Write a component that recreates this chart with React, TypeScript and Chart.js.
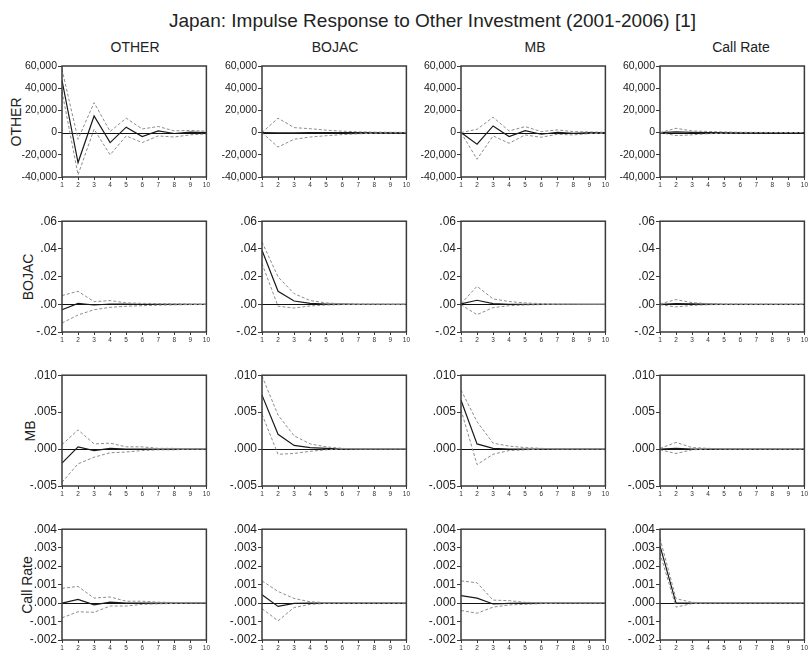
import React, { useEffect, useRef } from "react";
import { Chart, registerables } from "chart.js";

Chart.register(...registerables);

// Forecast horizon
const periods = ["1", "2", "3", "4", "5", "6", "7", "8", "9", "10"];

// Responding variables (rows) and shocked variables (columns)
const responseNames = ["OTHER", "BOJAC", "MB", "Call Rate"];
const shockNames = ["OTHER", "BOJAC", "MB", "Call Rate"];

// Y-axis ticks per responding variable
const ticksOther = [-40000, -20000, 0, 20000, 40000, 60000];
const tickLabelsOther = ["-40,000", "-20,000", "0", "20,000", "40,000", "60,000"];
const ticksBojac = [-0.02, 0, 0.02, 0.04, 0.06];
const tickLabelsBojac = ["-.02", ".00", ".02", ".04", ".06"];
const ticksMb = [-0.005, 0, 0.005, 0.01];
const tickLabelsMb = ["-.005", ".000", ".005", ".010"];
const ticksCall = [-0.002, -0.001, 0, 0.001, 0.002, 0.003, 0.004];
const tickLabelsCall = ["-.002", "-.001", ".000", ".001", ".002", ".003", ".004"];

// Response of OTHER
const otherToOther = [47000, -27000, 15000, -9000, 4900, -3600, 1500, -800, 500, 0];
const otherToOtherHi = [57000, -6000, 27000, 1000, 13000, 3300, 5500, 1500, 2000, 1200];
const otherToOtherLo = [37000, -38000, 3000, -20000, -3000, -9000, -3000, -4000, -2000, -1200];
const otherToBojac = [0, -300, -200, -100, -100, 0, 0, 0, 0, 0];
const otherToBojacHi = [0, 13000, 4500, 3500, 2200, 1300, 700, 400, 300, 200];
const otherToBojacLo = [0, -13000, -6000, -4000, -2800, -1800, -1100, -600, -400, -200];
const otherToMb = [0, -10500, 6000, -3600, 1800, -1500, 300, -600, 100, 0];
const otherToMbHi = [0, 3000, 13800, 1500, 5400, 900, 2400, 900, 600, 300];
const otherToMbLo = [0, -24000, -3000, -9600, -2100, -4200, -1500, -2100, -900, -600];
const otherToCall = [0, 600, 200, 100, 0, 0, 0, 0, 0, 0];
const otherToCallHi = [0, 3900, 1500, 1000, 600, 300, 200, 100, 100, 0];
const otherToCallLo = [0, -2700, -2000, -1000, -600, -300, -200, -100, -100, 0];

// Response of BOJAC
const bojacToOther = [-0.0039, 0.0007, -0.0005, 0.0002, 0.0001, 0, 0, 0, 0, 0];
const bojacToOtherHi = [0.0063, 0.0094, 0.0019, 0.0027, 0.001, 0.0007, 0.0005, 0.0003, 0.0002, 0.0001];
const bojacToOtherLo = [-0.0135, -0.0077, -0.0039, -0.0022, -0.0014, -0.001, -0.0006, -0.0004, -0.0002, -0.0001];
const bojacToBojac = [0.039, 0.0094, 0.0024, 0.0007, 0.0002, 0.0001, 0, 0, 0, 0];
const bojacToBojacHi = [0.045, 0.0198, 0.0077, 0.0027, 0.001, 0.0004, 0.0002, 0.0001, 0, 0];
const bojacToBojacLo = [0.0294, -0.0014, -0.0027, -0.0012, -0.0005, -0.0002, -0.0001, 0, 0, 0];
const bojacToMb = [0.0003, 0.0029, 0.0005, 0, 0, 0, 0, 0, 0, 0];
const bojacToMbHi = [0.0005, 0.013, 0.0039, 0.002, 0.001, 0.0005, 0.0002, 0.0001, 0, 0];
const bojacToMbLo = [-0.0003, -0.0075, -0.0024, -0.001, -0.0005, -0.0002, -0.0001, 0, 0, 0];
const bojacToCall = [0, 0.0005, 0.0003, 0.0001, 0, 0, 0, 0, 0, 0];
const bojacToCallHi = [0.0003, 0.0034, 0.0012, 0.0005, 0.0002, 0.0001, 0, 0, 0, 0];
const bojacToCallLo = [-0.0003, -0.0019, -0.0008, -0.0003, -0.0001, 0, 0, 0, 0, 0];

// Response of MB
const mbToOther = [-0.0019, 0.0003, -0.0002, 0.0001, 0, 0, 0, 0, 0, 0];
const mbToOtherHi = [0.0006, 0.0026, 0.0007, 0.0008, 0.0003, 0.0003, 0.0001, 0.0001, 0, 0];
const mbToOtherLo = [-0.0045, -0.002, -0.0011, -0.0005, -0.0004, -0.0002, -0.0001, -0.0001, 0, 0];
const mbToBojac = [0.0073, 0.002, 0.0005, 0.0002, 0.0001, 0, 0, 0, 0, 0];
const mbToBojacHi = [0.0099, 0.0046, 0.0018, 0.0007, 0.0003, 0.0001, 0, 0, 0, 0];
const mbToBojacLo = [0.0047, -0.0007, -0.0006, -0.0003, -0.0001, 0, 0, 0, 0, 0];
const mbToMb = [0.0066, 0.0007, 0.0001, 0, 0, 0, 0, 0, 0, 0];
const mbToMbHi = [0.008, 0.0037, 0.0008, 0.0004, 0.0002, 0.0001, 0, 0, 0, 0];
const mbToMbLo = [0.0053, -0.0021, -0.0007, -0.0002, -0.0001, 0, 0, 0, 0, 0];
const mbToCall = [0, 0.0001, 0, 0, 0, 0, 0, 0, 0, 0];
const mbToCallHi = [0.0001, 0.0009, 0.0002, 0.0001, 0, 0, 0, 0, 0, 0];
const mbToCallLo = [-0.0001, -0.0006, -0.0001, 0, 0, 0, 0, 0, 0, 0];

// Response of Call Rate
const callToOther = [0, 0.0002, -0.0001, 0.00005, 0, 0, 0, 0, 0, 0];
const callToOtherHi = [0.0008, 0.0009, 0.00027, 0.00033, 0.0001, 0.0001, 0.00005, 0.00003, 0.00002, 0.00001];
const callToOtherLo = [-0.0008, -0.00047, -0.0005, -0.00016, -0.00016, -0.00007, -0.00004, -0.00002, -0.00001, 0];
const callToBojac = [0.00045, -0.00018, -0.00002, 0, 0, 0, 0, 0, 0, 0];
const callToBojacHi = [0.0012, 0.00063, 0.00025, 0.00007, 0.00002, 0, 0, 0, 0, 0];
const callToBojacLo = [-0.0003, -0.00096, -0.00024, -0.00007, -0.00002, 0, 0, 0, 0, 0];
const callToMb = [0.0004, 0.00027, -0.00005, -0.00002, 0, 0, 0, 0, 0, 0];
const callToMbHi = [0.0012, 0.0011, 0.00016, 0.00013, 0.00004, 0.00002, 0.00001, 0, 0, 0];
const callToMbLo = [-0.0004, -0.00055, -0.00022, -0.0001, -0.00007, -0.00003, -0.00001, 0, 0, 0];
const callToCall = [0.0031, 0, 0, 0, 0, 0, 0, 0, 0, 0];
const callToCallHi = [0.0035, 0.00024, 0.00004, 0, 0, 0, 0, 0, 0, 0];
const callToCallLo = [0.0027, -0.00022, -0.00003, 0, 0, 0, 0, 0, 0, 0];

type Cell = { mid: number[]; hi: number[]; lo: number[] };

const grid: Cell[][] = [
  [
    { mid: otherToOther, hi: otherToOtherHi, lo: otherToOtherLo },
    { mid: otherToBojac, hi: otherToBojacHi, lo: otherToBojacLo },
    { mid: otherToMb, hi: otherToMbHi, lo: otherToMbLo },
    { mid: otherToCall, hi: otherToCallHi, lo: otherToCallLo },
  ],
  [
    { mid: bojacToOther, hi: bojacToOtherHi, lo: bojacToOtherLo },
    { mid: bojacToBojac, hi: bojacToBojacHi, lo: bojacToBojacLo },
    { mid: bojacToMb, hi: bojacToMbHi, lo: bojacToMbLo },
    { mid: bojacToCall, hi: bojacToCallHi, lo: bojacToCallLo },
  ],
  [
    { mid: mbToOther, hi: mbToOtherHi, lo: mbToOtherLo },
    { mid: mbToBojac, hi: mbToBojacHi, lo: mbToBojacLo },
    { mid: mbToMb, hi: mbToMbHi, lo: mbToMbLo },
    { mid: mbToCall, hi: mbToCallHi, lo: mbToCallLo },
  ],
  [
    { mid: callToOther, hi: callToOtherHi, lo: callToOtherLo },
    { mid: callToBojac, hi: callToBojacHi, lo: callToBojacLo },
    { mid: callToMb, hi: callToMbHi, lo: callToMbLo },
    { mid: callToCall, hi: callToCallHi, lo: callToCallLo },
  ],
];

const rowTicks = [ticksOther, ticksBojac, ticksMb, ticksCall];
const rowTickLabels = [tickLabelsOther, tickLabelsBojac, tickLabelsMb, tickLabelsCall];

// Layout of the panel grid
const FONT = 'Arial, "Liberation Sans", sans-serif';
const PLOT_W = 147;
const PLOT_H = 111;
const AXIS_W = 62;
const PAD_TOP = 8;
const AXIS_H = 16;
const PAD_RIGHT = 2;
const colLeft = [62, 262, 461, 660];
const rowTop = [66, 221, 375, 529];
const colTitleX = [135, 335, 535, 741];
const rowLabelX = [16, 27.5, 29.5, 26.7];
const rowTickFont = [10.5, 12, 12, 12];

const framePlugin = {
  id: "panelFrame",
  beforeDatasetsDraw(chart: any) {
    const { ctx, chartArea: a, scales } = chart;
    const y0 = Math.round(scales.y.getPixelForValue(0)) + 0.5;
    ctx.save();
    ctx.strokeStyle = "#111";
    ctx.lineWidth = 1;
    ctx.beginPath();
    ctx.moveTo(a.left, y0);
    ctx.lineTo(a.right, y0);
    ctx.stroke();
    ctx.restore();
  },
  afterDraw(chart: any) {
    const { ctx, chartArea: a } = chart;
    ctx.save();
    ctx.strokeStyle = "#3a3a3a";
    ctx.lineWidth = 1.5;
    ctx.strokeRect(a.left, a.top, a.right - a.left, a.bottom - a.top);
    ctx.restore();
  },
};

function Panel({ row, col }: { row: number; col: number }) {
  const ref = useRef<HTMLCanvasElement | null>(null);
  useEffect(() => {
    if (!ref.current) return;
    const cell = grid[row][col];
    const tv = rowTicks[row];
    const tl = rowTickLabels[row];
    const chart = new Chart(ref.current, {
      type: "line",
      data: {
        labels: periods,
        datasets: [
          {
            data: cell.hi,
            borderColor: "#8c8c8c",
            borderWidth: 1,
            borderDash: [3, 2],
            pointRadius: 0,
            tension: 0,
            fill: false,
          },
          {
            data: cell.lo,
            borderColor: "#8c8c8c",
            borderWidth: 1,
            borderDash: [3, 2],
            pointRadius: 0,
            tension: 0,
            fill: false,
          },
          {
            data: cell.mid,
            borderColor: "#1a1a1a",
            borderWidth: 1.2,
            pointRadius: 0,
            tension: 0,
            fill: false,
          },
        ],
      },
      options: {
        animation: false,
        responsive: false,
        events: [],
        layout: { autoPadding: false, padding: { top: PAD_TOP, right: PAD_RIGHT, left: 0, bottom: 0 } },
        plugins: { legend: { display: false }, tooltip: { enabled: false } },
        scales: {
          x: {
            type: "category",
            offset: false,
            grid: { drawOnChartArea: false, drawTicks: true, tickLength: 3, color: "#3a3a3a" },
            border: { display: false },
            ticks: {
              autoSkip: false,
              maxRotation: 0,
              padding: 1,
              color: "#333",
              font: { family: FONT, size: 6.5 },
            },
            afterFit: (s: any) => {
              s.height = AXIS_H;
            },
          },
          y: {
            min: tv[0],
            max: tv[tv.length - 1],
            grid: { drawOnChartArea: false, drawTicks: true, tickLength: 4, color: "#3a3a3a" },
            border: { display: false },
            afterBuildTicks: (s: any) => {
              s.ticks = tv.map((v) => ({ value: v }));
            },
            ticks: {
              padding: 1,
              color: "#222",
              font: { family: FONT, size: rowTickFont[row] },
              callback: (v: any) => {
                const i = tv.findIndex((t) => Math.abs(t - Number(v)) < 1e-12 + Math.abs(t) * 1e-9);
                return i >= 0 ? tl[i] : "";
              },
            },
            afterFit: (s: any) => {
              s.width = AXIS_W;
            },
          },
        },
      },
      plugins: [framePlugin],
    } as any);
    return () => chart.destroy();
  }, [row, col]);

  const w = AXIS_W + PLOT_W + PAD_RIGHT;
  const h = PAD_TOP + PLOT_H + AXIS_H;
  return (
    <canvas
      ref={ref}
      width={w}
      height={h}
      style={{
        position: "absolute",
        left: colLeft[col] - AXIS_W,
        top: rowTop[row] - PAD_TOP,
        width: w,
        height: h,
      }}
    />
  );
}

export default function App() {
  const text: React.CSSProperties = {
    position: "absolute",
    fontFamily: FONT,
    color: "#222",
    whiteSpace: "nowrap",
  };
  return (
    <div style={{ position: "absolute", left: 0, top: 0, width: 809, height: 652, background: "#fff", overflow: "hidden" }}>
      <div
        style={{
          ...text,
          left: 432.5,
          top: 11,
          fontSize: 19,
          lineHeight: "19px",
          transform: "translateX(-50%)",
        }}
      >
        Japan: Impulse Response to Other Investment (2001-2006) [1]
      </div>
      {shockNames.map((name, c) => (
        <div
          key={"c" + c}
          style={{
            ...text,
            left: colTitleX[c],
            top: 39.8,
            fontSize: 14,
            lineHeight: "14px",
            transform: "translateX(-50%)",
          }}
        >
          {name}
        </div>
      ))}
      {responseNames.map((name, r) => (
        <div
          key={"r" + r}
          style={{
            ...text,
            left: rowLabelX[r],
            top: rowTop[r] + PLOT_H / 2,
            fontSize: 14,
            lineHeight: "14px",
            transform: "translate(-50%, -50%) rotate(-90deg)",
          }}
        >
          {name}
        </div>
      ))}
      {grid.map((cells, r) => cells.map((_, c) => <Panel key={r + "-" + c} row={r} col={c} />))}
    </div>
  );
}
